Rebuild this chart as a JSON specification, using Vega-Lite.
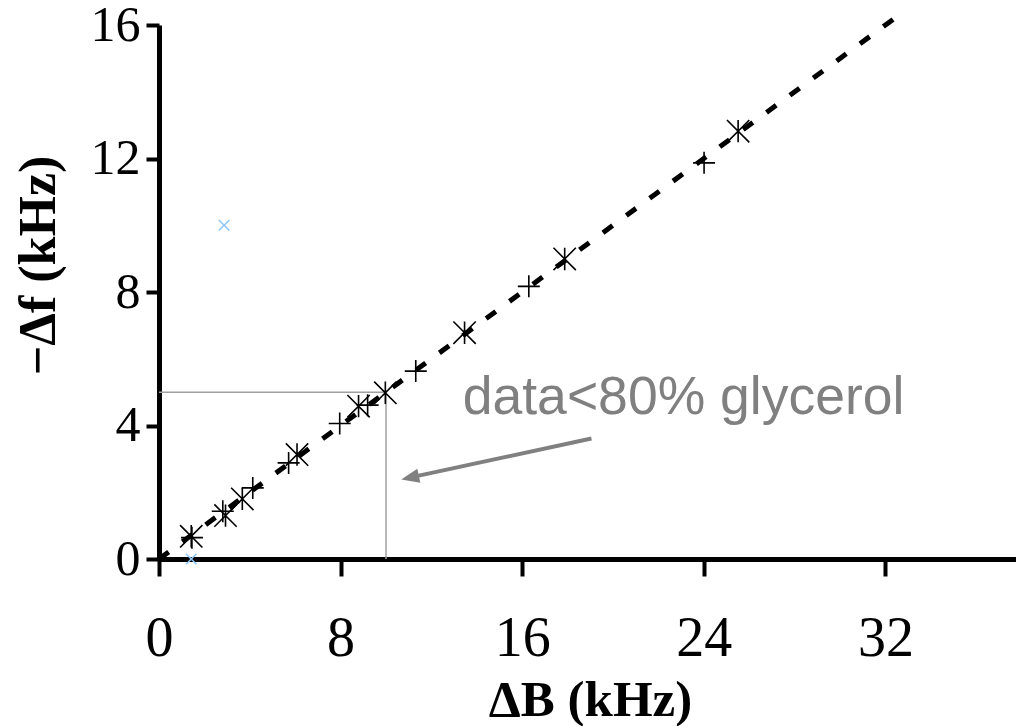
{
  "$schema": "https://vega.github.io/schema/vega-lite/v6.json",
  "width": 857,
  "height": 534,
  "autosize": "none",
  "padding": {"left": 159, "top": 25, "right": 0, "bottom": 167},
  "background": "white",
  "config": {"view": {"stroke": null}},
  "datasets": {
    "guide": [{"x": 0, "y": 5, "o": 0}, {"x": 10, "y": 5, "o": 1}, {"x": 10, "y": 0, "o": 2}],
    "fit": [{"x": 0, "y": 0}, {"x": 32.8, "y": 16.4}],
    "asterisk": [
      {"x": 1.42, "y": 0.68},
      {"x": 2.93, "y": 1.30},
      {"x": 3.67, "y": 1.80},
      {"x": 6.08, "y": 3.13},
      {"x": 8.79, "y": 4.58},
      {"x": 9.97, "y": 4.98},
      {"x": 13.46, "y": 6.78},
      {"x": 17.87, "y": 8.99},
      {"x": 25.51, "y": 12.82}
    ],
    "plus": [
      {"x": 1.45, "y": 0.64},
      {"x": 2.81, "y": 1.43},
      {"x": 4.13, "y": 2.13},
      {"x": 5.71, "y": 2.88},
      {"x": 7.96, "y": 4.06},
      {"x": 9.19, "y": 4.61},
      {"x": 11.31, "y": 5.63},
      {"x": 16.29, "y": 8.17},
      {"x": 24.01, "y": 11.87}
    ],
    "blue": [
      {"x": 2.87, "y": 10.0},
      {"x": 1.42, "y": 0.0}
    ],
    "arrow": [{"x": 19.05, "y": 3.61, "x2": 11.19, "y2": 2.46}],
    "head": [{"x": 10.67, "y": 2.38}],
    "label": [{"x": 13.38, "y": 4.33, "t": "data<80% glycerol"}]
  },
  "encoding": {
    "x": {
      "field": "x", "type": "quantitative",
      "scale": {"domain": [0, 37.75], "nice": false, "zero": false},
      "axis": {
        "values": [0, 8, 16, 24, 32],
        "grid": false,
        "domainColor": "#000000", "domainWidth": 5,
        "tickColor": "#000000", "tickWidth": 4, "tickSize": 17,
        "labelFont": "Liberation Serif", "labelFontSize": 56, "labelColor": "#000000",
        "labelPadding": 35, "labelFlush": false, "labelOverlap": false,
        "title": "ΔB  (kHz)",
        "titleFont": "Liberation Serif", "titleFontSize": 51, "titleFontWeight": "bold",
        "titleColor": "#000000", "titleBaseline": "alphabetic", "titleY": 156, "titleX": 431
      }
    },
    "y": {
      "field": "y", "type": "quantitative",
      "scale": {"domain": [0, 16], "nice": false, "zero": false},
      "axis": {
        "values": [0, 4, 8, 12, 16],
        "grid": false,
        "domainColor": "#000000", "domainWidth": 5,
        "tickColor": "#000000", "tickWidth": 4, "tickSize": 13,
        "labelFont": "Liberation Serif", "labelFontSize": 50, "labelColor": "#000000",
        "labelPadding": 6, "labelFlush": false, "labelOverlap": false,
        "title": "−Δf  (kHz)",
        "titleFont": "Liberation Serif", "titleFontSize": 52, "titleFontWeight": "bold",
        "titleColor": "#000000", "titleBaseline": "middle", "titleX": -121, "titleY": 240
      }
    }
  },
  "layer": [
    {
      "data": {"name": "guide"},
      "mark": {"type": "line", "color": "#a0a0a0", "strokeWidth": 1.5},
      "encoding": {"order": {"field": "o", "type": "quantitative"}}
    },
    {
      "data": {"name": "fit"},
      "mark": {"type": "line", "color": "#000000", "strokeWidth": 5, "strokeDash": [12, 17]},
      "encoding": {}
    },
    {
      "data": {"name": "asterisk"},
      "mark": {"type": "point", "shape": "M-1,-1L1,1M-1,1L1,-1M0,-1L0,1", "filled": false, "color": "#000000", "strokeWidth": 1.6, "size": 500, "opacity": 1}
    },
    {
      "data": {"name": "plus"},
      "mark": {"type": "point", "shape": "M-1,0L1,0M0,-1L0,1", "filled": false, "color": "#000000", "strokeWidth": 1.6, "size": 484, "opacity": 1}
    },
    {
      "data": {"name": "blue"},
      "mark": {"type": "point", "shape": "M-1,-1L1,1M-1,1L1,-1", "filled": false, "color": "#8ec5f5", "strokeWidth": 1.5, "size": 110, "opacity": 1}
    },
    {
      "data": {"name": "arrow"},
      "mark": {"type": "rule", "color": "#808080", "strokeWidth": 4},
      "encoding": {"x2": {"field": "x2"}, "y2": {"field": "y2"}}
    },
    {
      "data": {"name": "head"},
      "mark": {"type": "point", "shape": "M0,0L2,-0.8L2,0.8Z", "filled": true, "color": "#808080", "size": 324, "angle": -12.2, "opacity": 1}
    },
    {
      "data": {"name": "label"},
      "mark": {"type": "text", "font": "Liberation Sans", "fontSize": 53.5, "color": "#808080", "align": "left", "baseline": "alphabetic"},
      "encoding": {"text": {"field": "t"}}
    }
  ]
}
